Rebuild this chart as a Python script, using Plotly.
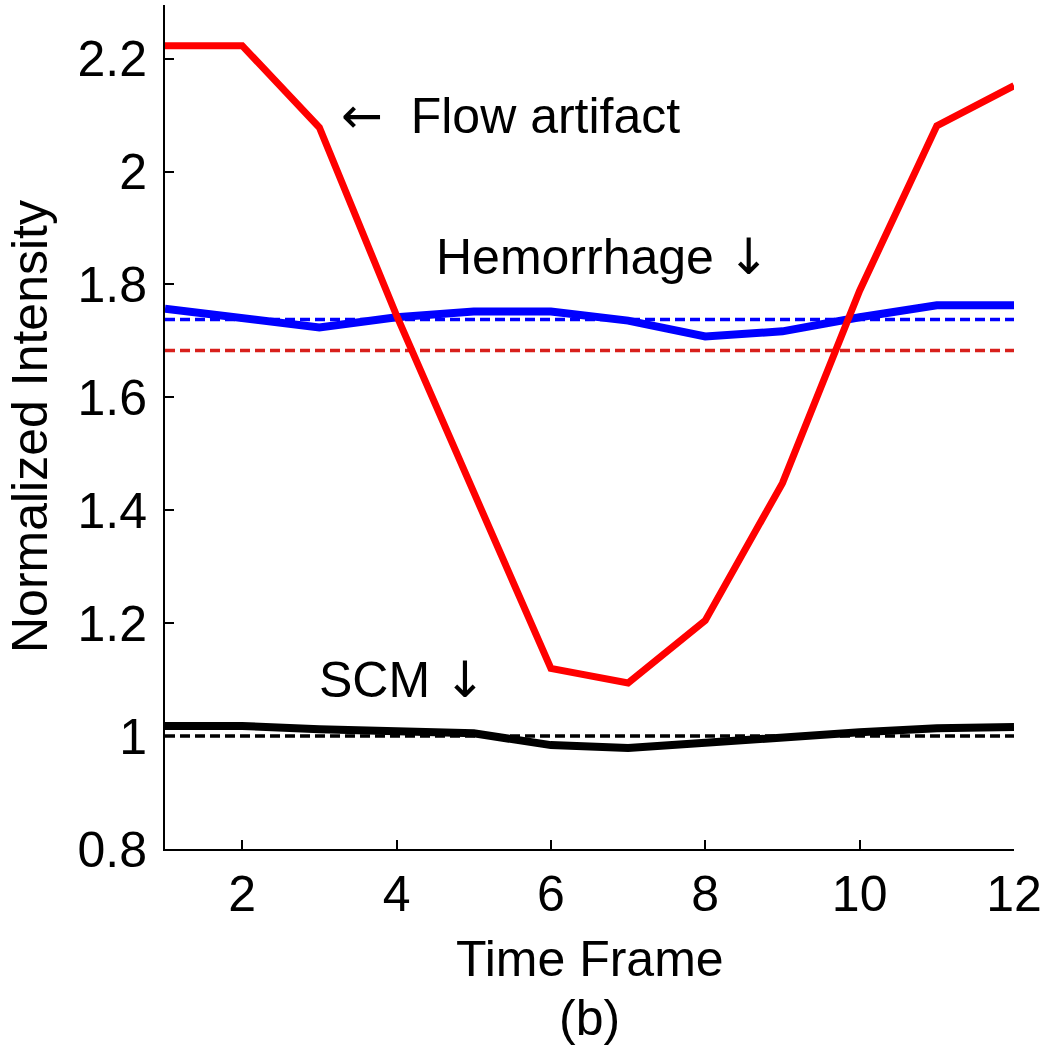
import plotly.graph_objects as go

frames = [1, 2, 3, 4, 5, 6, 7, 8, 9, 10, 11, 12]
flow_artifact = [2.223, 2.223, 2.078, 1.745, 1.432, 1.120, 1.094, 1.205, 1.448, 1.789, 2.081, 2.152]
hemorrhage = [1.757, 1.740, 1.724, 1.742, 1.752, 1.752, 1.736, 1.708, 1.717, 1.742, 1.763, 1.763]
scm = [1.018, 1.018, 1.012, 1.007, 1.005, 0.984, 0.979, 0.988, 0.998, 1.007, 1.014, 1.016]

flow_ref = 1.683
hem_ref = 1.738
scm_ref = 1.0

x_ticks = [2, 4, 6, 8, 10, 12]
y_ticks = [0.8, 1.0, 1.2, 1.4, 1.6, 1.8, 2.0, 2.2]
y_tick_text = ["0.8", "1", "1.2", "1.4", "1.6", "1.8", "2", "2.2"]

FONT = "Liberation Sans, Arial, Helvetica, sans-serif"
ARROW = '<span style="font-family:DejaVu Sans">{}</span>'

fig = go.Figure()
x_span = [frames[0], frames[-1]]
fig.add_trace(go.Scatter(x=x_span, y=[scm_ref, scm_ref], mode="lines",
                         line=dict(color="black", width=3.5, dash="10px,5px")))
fig.add_trace(go.Scatter(x=x_span, y=[hem_ref, hem_ref], mode="lines",
                         line=dict(color="#0000ff", width=3.5, dash="10px,5px")))
fig.add_trace(go.Scatter(x=x_span, y=[flow_ref, flow_ref], mode="lines",
                         line=dict(color="#d8201c", width=3.5, dash="10px,5px")))
fig.add_trace(go.Scatter(x=frames, y=scm, mode="lines",
                         line=dict(color="black", width=8)))
fig.add_trace(go.Scatter(x=frames, y=hemorrhage, mode="lines",
                         line=dict(color="#0000ff", width=8)))
fig.add_trace(go.Scatter(x=frames, y=flow_artifact, mode="lines",
                         line=dict(color="#ff0000", width=7)))

fig.update_layout(
    width=1045, height=1050,
    margin=dict(l=165, r=31, t=5, b=201),
    paper_bgcolor="white", plot_bgcolor="white",
    showlegend=False,
    font=dict(family=FONT, size=50, color="black"),
)
fig.update_xaxes(range=[1, 12], tickvals=x_ticks, ticks="inside", ticklen=9, tickwidth=2,
                 tickcolor="black", showline=True, linecolor="black", linewidth=2,
                 showgrid=False, zeroline=False, tickfont=dict(size=50, family=FONT),
                 ticklabelstandoff=0, automargin=False)
fig.update_yaxes(range=[0.8, 2.295], tickvals=y_ticks, ticktext=y_tick_text, ticks="inside",
                 ticklen=9, tickwidth=2, tickcolor="black", showline=True, linecolor="black",
                 linewidth=2, showgrid=False, zeroline=False,
                 tickfont=dict(size=50, family=FONT), ticklabelstandoff=6, automargin=False)

ann = [
    dict(text=ARROW.format("\u2190") + "  Flow artifact", x=3.26, y=2.098, xref="x", yref="y",
         xanchor="left", yanchor="middle"),
    dict(text="Hemorrhage " + ARROW.format("\u2193"), x=4.48, y=1.849, xref="x", yref="y",
         xanchor="left", yanchor="middle"),
    dict(text="SCM " + ARROW.format("\u2193"), x=2.97, y=1.100, xref="x", yref="y",
         xanchor="left", yanchor="middle"),
    dict(text="Time Frame", x=0.5, y=-0.130, xref="paper", yref="paper",
         xanchor="center", yanchor="middle"),
    dict(text="(b)", x=0.5, y=-0.200, xref="paper", yref="paper",
         xanchor="center", yanchor="middle"),
    dict(text="Normalized Intensity", x=-0.159, y=0.50, xref="paper", yref="paper",
         xanchor="center", yanchor="middle", textangle=-90),
]
for a in ann:
    a.update(showarrow=False, font=dict(family=FONT, size=50, color="black"))
    fig.add_annotation(**a)

fig.write_html("out.html", config={"displayModeBar": False},
               post_script="document.body.style.margin='0px';")
